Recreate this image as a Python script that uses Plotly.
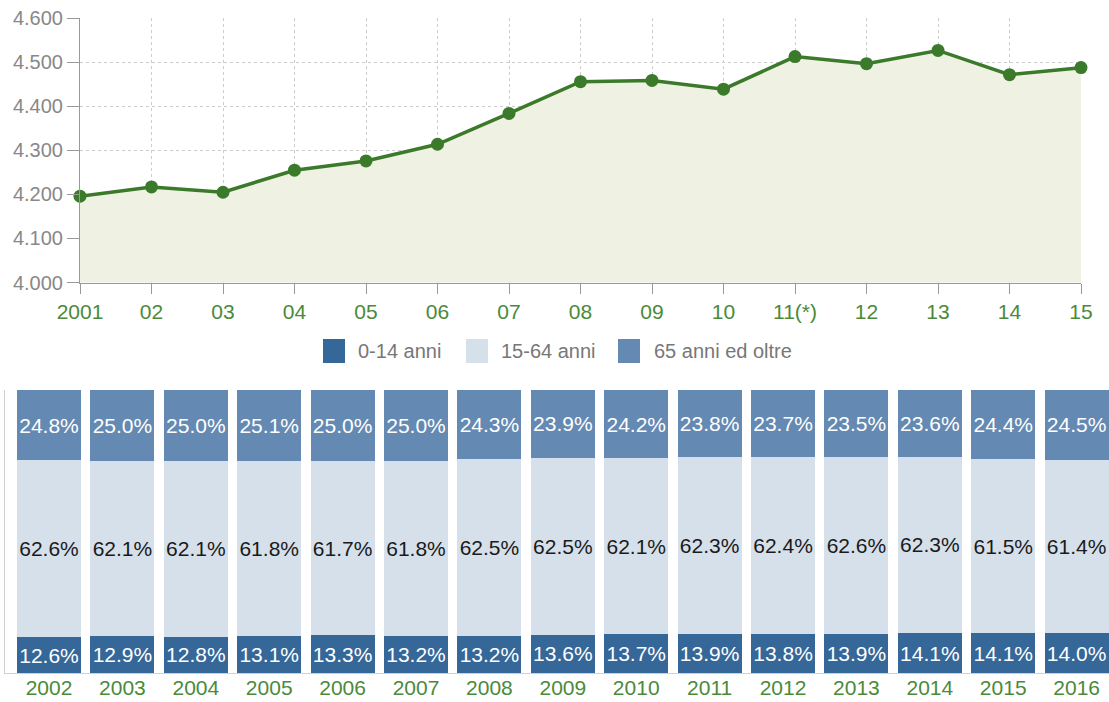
import plotly.graph_objects as go

# ---- data: population line (top) ----
line_labels = ["2001", "02", "03", "04", "05", "06", "07", "08", "09", "10",
               "11(*)", "12", "13", "14", "15"]
population = [4196, 4217, 4205, 4255, 4276, 4314, 4384, 4456, 4459, 4439,
              4513, 4497, 4527, 4472, 4488]
y_tickvals = [4000, 4100, 4200, 4300, 4400, 4500, 4600]
y_ticktext = ["4.000", "4.100", "4.200", "4.300", "4.400", "4.500", "4.600"]

# ---- data: age structure (bottom) ----
bar_years = ["2002", "2003", "2004", "2005", "2006", "2007", "2008", "2009",
             "2010", "2011", "2012", "2013", "2014", "2015", "2016"]
age_0_14 = [12.6, 12.9, 12.8, 13.1, 13.3, 13.2, 13.2, 13.6, 13.7, 13.9, 13.8, 13.9, 14.1, 14.1, 14.0]
age_15_64 = [62.6, 62.1, 62.1, 61.8, 61.7, 61.8, 62.5, 62.5, 62.1, 62.3, 62.4, 62.6, 62.3, 61.5, 61.4]
age_65 = [24.8, 25.0, 25.0, 25.1, 25.0, 25.0, 24.3, 23.9, 24.2, 23.8, 23.7, 23.5, 23.6, 24.4, 24.5]

series_names = ["0-14 anni", "15-64 anni", "65 anni ed oltre"]
series_colors = ["#356799", "#d6e0ea", "#6489b2"]
text_colors = ["#ffffff", "#1a1a1a", "#ffffff"]

FONT = "Liberation Sans, Arial, sans-serif"
GREEN = "#3b7a2b"
LABEL_GREEN = "#4a8a3a"

W, H = 1109, 702

fig = go.Figure()

# top line + area
fig.add_trace(go.Scatter(
    x=line_labels, y=population, mode="lines+markers",
    line=dict(color=GREEN, width=3.5),
    marker=dict(color=GREEN, size=13),
    fill="tozeroy", fillcolor="#eff1e3",
    cliponaxis=False,
    xaxis="x", yaxis="y", showlegend=False, hoverinfo="x+y",
))

# bottom stacked bars
for vals, name, col, tcol in zip([age_0_14, age_15_64, age_65], series_names,
                                 series_colors, text_colors):
    fig.add_trace(go.Bar(
        x=bar_years, y=vals, name=name,
        marker=dict(color=col, line=dict(width=0)),
        text=[f"{v:.1f}%" for v in vals],
        textposition="inside", insidetextanchor="middle",
        constraintext="none", textangle=0,
        textfont=dict(color=tcol, size=21, family=FONT),
        width=0.872,
        xaxis="x2", yaxis="y2", showlegend=False,
    ))

# manual legend (squares + text)
legend_items = [(323, 356), (466, 499), (618, 652)]
shapes = []
annotations = []
for (sx, tx), name, col in zip(legend_items, series_names, series_colors):
    shapes.append(dict(type="rect", xref="paper", yref="paper",
                       x0=sx / W, x1=(sx + 22) / W,
                       y0=1 - 363 / H, y1=1 - 339 / H,
                       fillcolor=col, line=dict(width=0)))
    annotations.append(dict(xref="paper", yref="paper", x=tx / W, y=1 - 351 / H,
                            text=name, showarrow=False, xanchor="left", yanchor="middle",
                            font=dict(size=20, color="#777777", family=FONT)))

fig.update_layout(
    width=W, height=H,
    margin=dict(l=0, r=0, t=0, b=0),
    paper_bgcolor="white", plot_bgcolor="white",
    font=dict(family=FONT),
    barmode="stack",
    uniformtext=dict(mode=False),
    shapes=shapes,
    annotations=annotations,
    xaxis=dict(
        domain=[80 / W, 1081 / W], anchor="y", automargin=False,
        type="category", range=[0, 14],
        showline=True, linecolor="#999999", linewidth=1,
        ticks="outside", ticklen=10, tickcolor="#999999",
        showgrid=True, gridcolor="#cccccc", griddash="3px,3px", gridwidth=1,
        tickfont=dict(size=21, color=LABEL_GREEN, family=FONT),
        zeroline=False, fixedrange=True,
    ),
    yaxis=dict(
        domain=[1 - 282.5 / H, 1 - 18.3 / H], anchor="x", automargin=False,
        range=[4000, 4600],
        tickvals=y_tickvals, ticktext=y_ticktext,
        showline=True, linecolor="#999999", linewidth=1,
        ticks="outside", ticklen=12, tickcolor="#999999",
        showgrid=True, gridcolor="#cccccc", griddash="3px,3px", gridwidth=1,
        tickfont=dict(size=20, color="#888888", family=FONT),
        zeroline=False, fixedrange=True,
    ),
    xaxis2=dict(
        domain=[5 / W, 1.0], anchor="y2", automargin=False,
        type="category", range=[-0.5995, 14.441],
        showline=True, linecolor="#d0d0d0", linewidth=1,
        ticks="", showgrid=False, zeroline=False,
        ticklabelstandoff=-4,
        tickfont=dict(size=21, color=LABEL_GREEN, family=FONT),
        fixedrange=True,
    ),
    yaxis2=dict(
        domain=[1 - 673 / H, 1 - 390 / H], anchor="x2", automargin=False,
        range=[0, 100],
        showline=True, linecolor="#d0d0d0", linewidth=1,
        showticklabels=False, ticks="", showgrid=False, zeroline=False,
        fixedrange=True,
    ),
)

# remove the default 8px page margin so the figure fills the window exactly
fig.write_html("out.html", config={"displayModeBar": False},
               post_script="document.body.style.margin='0';")
